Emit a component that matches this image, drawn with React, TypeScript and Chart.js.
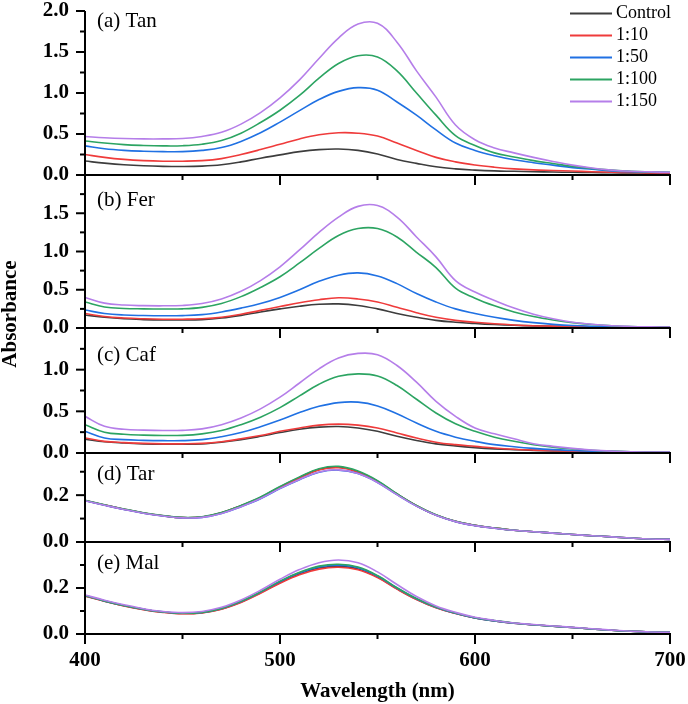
import React, { useEffect, useRef } from "react";
import { Chart, registerables } from "chart.js";

Chart.register(...registerables);

// ---------- data ----------
const wavelength = [400, 410, 420, 430, 440, 450, 460, 470, 480, 490, 500, 510, 520, 530, 540, 550, 560, 570, 580, 590, 600, 610, 620, 630, 640, 650, 660, 670, 680, 690, 700];

const tanControl = [0.17, 0.145, 0.125, 0.112, 0.105, 0.103, 0.108, 0.125, 0.16, 0.205, 0.245, 0.285, 0.31, 0.317, 0.3, 0.256, 0.19, 0.142, 0.1, 0.075, 0.06, 0.05, 0.045, 0.04, 0.036, 0.033, 0.03, 0.027, 0.025, 0.022, 0.02];
const tan10 = [0.25, 0.215, 0.19, 0.175, 0.168, 0.168, 0.175, 0.2, 0.25, 0.31, 0.375, 0.44, 0.49, 0.515, 0.51, 0.475, 0.39, 0.3, 0.215, 0.16, 0.122, 0.095, 0.075, 0.062, 0.055, 0.048, 0.04, 0.035, 0.03, 0.025, 0.02];
const tan50 = [0.355, 0.32, 0.3, 0.29, 0.285, 0.285, 0.3, 0.335, 0.41, 0.515, 0.645, 0.785, 0.92, 1.02, 1.065, 1.035, 0.89, 0.73, 0.55, 0.39, 0.3, 0.235, 0.185, 0.15, 0.12, 0.09, 0.07, 0.05, 0.04, 0.035, 0.03];
const tan100 = [0.415, 0.39, 0.37, 0.36, 0.355, 0.357, 0.375, 0.42, 0.51, 0.64, 0.79, 0.97, 1.18, 1.36, 1.455, 1.44, 1.27, 1.0, 0.73, 0.48, 0.36, 0.27, 0.22, 0.175, 0.14, 0.105, 0.08, 0.06, 0.045, 0.038, 0.033];
const tan150 = [0.47, 0.455, 0.445, 0.44, 0.44, 0.445, 0.47, 0.52, 0.62, 0.76, 0.94, 1.16, 1.42, 1.67, 1.84, 1.85, 1.62, 1.27, 0.95, 0.61, 0.43, 0.33, 0.27, 0.215, 0.165, 0.12, 0.085, 0.06, 0.045, 0.038, 0.033];

const ferControl = [0.17, 0.14, 0.12, 0.11, 0.105, 0.105, 0.11, 0.13, 0.165, 0.21, 0.25, 0.285, 0.31, 0.315, 0.295, 0.25, 0.19, 0.14, 0.1, 0.075, 0.058, 0.045, 0.035, 0.028, 0.023, 0.019, 0.016, 0.013, 0.012, 0.011, 0.01];
const fer10 = [0.19, 0.15, 0.13, 0.12, 0.115, 0.115, 0.12, 0.14, 0.18, 0.23, 0.28, 0.33, 0.37, 0.395, 0.38, 0.34, 0.27, 0.2, 0.14, 0.1, 0.075, 0.055, 0.04, 0.03, 0.025, 0.02, 0.016, 0.013, 0.012, 0.011, 0.01];
const fer50 = [0.235, 0.19, 0.17, 0.163, 0.16, 0.162, 0.175, 0.21, 0.26, 0.32, 0.4, 0.5, 0.61, 0.69, 0.72, 0.68, 0.58, 0.45, 0.34, 0.25, 0.19, 0.14, 0.1, 0.07, 0.048, 0.032, 0.023, 0.018, 0.015, 0.012, 0.01];
const fer100 = [0.34, 0.275, 0.255, 0.25, 0.248, 0.25, 0.27, 0.32, 0.41, 0.53, 0.67, 0.85, 1.04, 1.21, 1.3, 1.3, 1.19, 0.99, 0.79, 0.52, 0.39, 0.29, 0.21, 0.15, 0.105, 0.07, 0.045, 0.03, 0.02, 0.015, 0.012];
const fer150 = [0.4, 0.325, 0.3, 0.292, 0.29, 0.295, 0.32, 0.38, 0.48, 0.62, 0.8, 1.02, 1.25, 1.45, 1.59, 1.6, 1.45, 1.19, 0.93, 0.62, 0.47, 0.36, 0.26, 0.18, 0.12, 0.075, 0.05, 0.03, 0.02, 0.015, 0.012];

const cafControl = [0.165, 0.135, 0.12, 0.11, 0.105, 0.105, 0.11, 0.13, 0.16, 0.2, 0.245, 0.285, 0.31, 0.318, 0.3, 0.26, 0.2, 0.15, 0.11, 0.085, 0.065, 0.05, 0.04, 0.032, 0.026, 0.021, 0.017, 0.014, 0.012, 0.011, 0.01];
const caf10 = [0.18, 0.14, 0.125, 0.115, 0.11, 0.11, 0.115, 0.135, 0.17, 0.21, 0.26, 0.3, 0.335, 0.347, 0.335, 0.3, 0.24, 0.18, 0.13, 0.1, 0.08, 0.06, 0.045, 0.035, 0.028, 0.022, 0.018, 0.015, 0.012, 0.011, 0.01];
const caf50 = [0.26, 0.18, 0.16, 0.152, 0.148, 0.148, 0.16, 0.195, 0.245, 0.315, 0.395, 0.485, 0.56, 0.605, 0.61, 0.565, 0.47, 0.36, 0.26, 0.19, 0.14, 0.1, 0.075, 0.055, 0.04, 0.03, 0.022, 0.017, 0.013, 0.011, 0.01];
const caf100 = [0.34, 0.25, 0.225, 0.215, 0.21, 0.212, 0.23, 0.27, 0.34, 0.43, 0.545, 0.685, 0.825, 0.92, 0.95, 0.925, 0.81, 0.645, 0.48, 0.35, 0.26, 0.19, 0.14, 0.1, 0.07, 0.05, 0.033, 0.022, 0.015, 0.012, 0.01];
const caf150 = [0.44, 0.32, 0.285, 0.275, 0.27, 0.272, 0.29, 0.34, 0.42, 0.53, 0.67, 0.84, 1.01, 1.14, 1.195, 1.18, 1.05, 0.85, 0.62, 0.44, 0.3, 0.23, 0.17, 0.11, 0.08, 0.055, 0.035, 0.022, 0.015, 0.012, 0.01];

const tarControl = [0.177, 0.158, 0.14, 0.124, 0.112, 0.104, 0.107, 0.125, 0.155, 0.19, 0.235, 0.275, 0.31, 0.32, 0.3, 0.26, 0.205, 0.155, 0.115, 0.088, 0.071, 0.06, 0.05, 0.044, 0.038, 0.032, 0.027, 0.022, 0.017, 0.013, 0.011];
const tar10 = [0.177, 0.158, 0.14, 0.124, 0.112, 0.104, 0.107, 0.125, 0.155, 0.19, 0.234, 0.273, 0.307, 0.317, 0.298, 0.258, 0.204, 0.155, 0.115, 0.088, 0.071, 0.06, 0.05, 0.044, 0.038, 0.032, 0.027, 0.022, 0.017, 0.013, 0.011];
const tar50 = [0.176, 0.157, 0.139, 0.123, 0.111, 0.103, 0.105, 0.122, 0.151, 0.185, 0.228, 0.266, 0.298, 0.307, 0.292, 0.254, 0.202, 0.153, 0.114, 0.087, 0.07, 0.059, 0.05, 0.044, 0.038, 0.032, 0.027, 0.022, 0.017, 0.013, 0.011];
const tar100 = [0.178, 0.159, 0.141, 0.125, 0.113, 0.105, 0.108, 0.126, 0.156, 0.192, 0.237, 0.278, 0.313, 0.323, 0.303, 0.262, 0.206, 0.156, 0.116, 0.088, 0.071, 0.06, 0.05, 0.044, 0.038, 0.032, 0.027, 0.022, 0.017, 0.013, 0.011];
const tar150 = [0.176, 0.157, 0.139, 0.123, 0.111, 0.103, 0.105, 0.122, 0.151, 0.186, 0.229, 0.267, 0.299, 0.308, 0.292, 0.254, 0.202, 0.153, 0.114, 0.087, 0.07, 0.059, 0.05, 0.044, 0.038, 0.032, 0.027, 0.022, 0.017, 0.013, 0.011];

const malControl = [0.166, 0.143, 0.123, 0.107, 0.095, 0.089, 0.093, 0.109, 0.139, 0.179, 0.224, 0.262, 0.287, 0.294, 0.283, 0.248, 0.197, 0.151, 0.115, 0.09, 0.07, 0.057, 0.047, 0.04, 0.034, 0.028, 0.022, 0.016, 0.012, 0.009, 0.007];
const mal10 = [0.165, 0.142, 0.122, 0.106, 0.094, 0.088, 0.092, 0.108, 0.137, 0.177, 0.221, 0.258, 0.282, 0.29, 0.279, 0.245, 0.195, 0.15, 0.114, 0.089, 0.07, 0.057, 0.047, 0.04, 0.034, 0.028, 0.022, 0.016, 0.012, 0.009, 0.007];
const mal50 = [0.167, 0.144, 0.124, 0.108, 0.096, 0.09, 0.094, 0.111, 0.141, 0.182, 0.228, 0.266, 0.292, 0.299, 0.288, 0.252, 0.2, 0.153, 0.116, 0.09, 0.07, 0.057, 0.047, 0.04, 0.034, 0.028, 0.022, 0.016, 0.012, 0.009, 0.007];
const mal100 = [0.167, 0.144, 0.124, 0.108, 0.096, 0.09, 0.094, 0.111, 0.142, 0.183, 0.23, 0.268, 0.295, 0.303, 0.291, 0.254, 0.201, 0.154, 0.117, 0.091, 0.071, 0.058, 0.048, 0.04, 0.034, 0.028, 0.022, 0.016, 0.012, 0.009, 0.007];
const mal150 = [0.17, 0.147, 0.127, 0.11, 0.098, 0.093, 0.098, 0.116, 0.148, 0.19, 0.238, 0.28, 0.31, 0.322, 0.31, 0.27, 0.215, 0.163, 0.122, 0.094, 0.073, 0.059, 0.048, 0.041, 0.035, 0.029, 0.023, 0.017, 0.012, 0.009, 0.007];

const seriesLabels = ["Control", "1:10", "1:50", "1:100", "1:150"];
const panelNames = ["(a) Tan", "(b) Fer", "(c) Caf", "(d) Tar", "(e) Mal"];
const panelSeries = [
  [tanControl, tan10, tan50, tan100, tan150],
  [ferControl, fer10, fer50, fer100, fer150],
  [cafControl, caf10, caf50, caf100, caf150],
  [tarControl, tar10, tar50, tar100, tar150],
  [malControl, mal10, mal50, mal100, mal150],
];
const panelMax = [2.0, 2.0, 1.5, 0.38, 0.4];
const panelMajor = [0.5, 0.5, 0.5, 0.2, 0.2];
const panelLabelMax = [2.0, 1.5, 1.0, 0.2, 0.2];
const xTickStep = 100;
const xMinorStep = 50;

// ---------- layout / style ----------
const seriesColors = ["#3d3d3d", "#ef3b3b", "#2071e3", "#2ca462", "#b57ee9"];
const panelWeights = [164, 153, 125, 89, 92];
const panelLabelOffsets = [10, 25, 27, 21, 21];
const FONT = "'Liberation Serif', 'Times New Roman', serif";
const panelIds = ["ya", "yb", "yc", "yd", "ye"];

const framePlugin = {
  id: "framePlugin",
  afterDraw(chart: any) {
    const { ctx, chartArea } = chart;
    const xs = chart.scales.x;
    const left = chartArea.left;
    ctx.save();
    ctx.strokeStyle = "#000";
    ctx.fillStyle = "#000";
    ctx.lineWidth = 2;
    const seg = (x1: number, y1: number, x2: number, y2: number) => {
      ctx.beginPath();
      ctx.moveTo(x1, y1);
      ctx.lineTo(x2, y2);
      ctx.stroke();
    };
    panelIds.forEach((id, i) => {
      const s = chart.scales[id];
      const yb = s.getPixelForValue(0);
      seg(left - 1, yb, chartArea.right + 1, yb);
      const minor = panelMajor[i] / 2;
      for (let k = 0; k * minor <= panelMax[i] + 1e-9; k++) {
        const py = s.getPixelForValue(k * minor);
        seg(left - (k % 2 === 0 ? 9 : 5), py, left, py);
      }
      for (let w = xs.min; w <= xs.max; w += xMinorStep) {
        const px = xs.getPixelForValue(w);
        seg(px, yb, px, yb + (w % xTickStep === 0 ? 10 : 5));
      }
      ctx.font = `21px ${FONT}`;
      ctx.textAlign = "left";
      ctx.textBaseline = "middle";
      ctx.fillText(panelNames[i], left + 12, s.top + panelLabelOffsets[i]);
    });
    seg(left, chartArea.top, left, chartArea.bottom);

    // legend
    ctx.font = `18px ${FONT}`;
    ctx.textBaseline = "middle";
    ctx.lineWidth = 2;
    seriesLabels.forEach((lab, i) => {
      const y = chartArea.top + 2.5 + i * 22;
      ctx.strokeStyle = seriesColors[i];
      seg(chartArea.right - 100, y, chartArea.right - 58, y);
      ctx.fillStyle = "#000";
      ctx.fillText(lab, chartArea.right - 54, y);
    });

    // y title
    ctx.save();
    ctx.translate(11, chartArea.top + 303);
    ctx.rotate(-Math.PI / 2);
    ctx.font = `bold 21px ${FONT}`;
    ctx.textAlign = "center";
    ctx.textBaseline = "middle";
    ctx.fillStyle = "#000";
    ctx.fillText("Absorbance", 0, 0);
    ctx.restore();
    ctx.restore();
  },
};

export default function App() {
  const ref = useRef<HTMLCanvasElement>(null);
  useEffect(() => {
    if (!ref.current) return;
    const datasets: any[] = [];
    panelSeries.forEach((series, p) => {
      series.forEach((arr, s) => {
        datasets.push({
          label: seriesLabels[s],
          data: wavelength.map((w, k) => ({ x: w, y: arr[k] })),
          yAxisID: panelIds[p],
          borderColor: seriesColors[s],
          borderWidth: 1.6,
          pointRadius: 0,
          fill: false,
          tension: 0.4,
          order: 4 - s,
        });
      });
    });
    const scales: any = {
      x: {
        type: "linear",
        position: "bottom",
        min: 400,
        max: 700,
        grid: { display: false, drawTicks: false },
        border: { display: false },
        ticks: {
          stepSize: xTickStep,
          autoSkip: false,
          maxRotation: 0,
          padding: 14,
          color: "#000",
          font: { family: FONT, size: 21, weight: "bold" },
        },
        title: {
          display: true,
          text: "Wavelength (nm)",
          color: "#000",
          padding: 0,
          font: { family: FONT, size: 21, weight: "bold" },
        },
        afterFit(s: any) {
          s.height = 70;
          s.paddingLeft = 0;
          s.paddingRight = 0;
        },
      },
    };
    panelIds.forEach((id, i) => {
      scales[id] = {
        type: "linear",
        position: "left",
        stack: "panels",
        stackWeight: panelWeights[i],
        weight: 10 - i,
        min: 0,
        max: panelMax[i],
        grid: { display: false, drawTicks: false },
        border: { display: false },
        ticks: {
          stepSize: panelMajor[i],
          autoSkip: false,
          padding: 16,
          color: "#000",
          font: { family: FONT, size: 21, weight: "bold" },
          callback: (v: any) => {
            const n = Number(v);
            if (n > panelLabelMax[i] + 1e-6) return "";
            const r = n / panelMajor[i];
            if (Math.abs(r - Math.round(r)) > 1e-6) return "";
            return n.toFixed(1);
          },
        },
        afterFit(s: any) {
          s.width = 85;
          s.paddingTop = 0;
          s.paddingBottom = 0;
        },
      };
    });
    const chart = new Chart(ref.current, {
      type: "line",
      data: { datasets },
      options: {
        responsive: false,
        animation: false,
        layout: { padding: { top: 11, right: 18, left: 0, bottom: 0 } },
        plugins: { legend: { display: false }, tooltip: { enabled: false } },
        scales,
      },
      plugins: [framePlugin],
    } as any);
    return () => chart.destroy();
  }, []);
  return (
    <div style={{ position: "absolute", left: 0, top: 0, width: 688, height: 704, background: "#fff" }}>
      <canvas ref={ref} width={688} height={704} style={{ display: "block" }} />
    </div>
  );
}
